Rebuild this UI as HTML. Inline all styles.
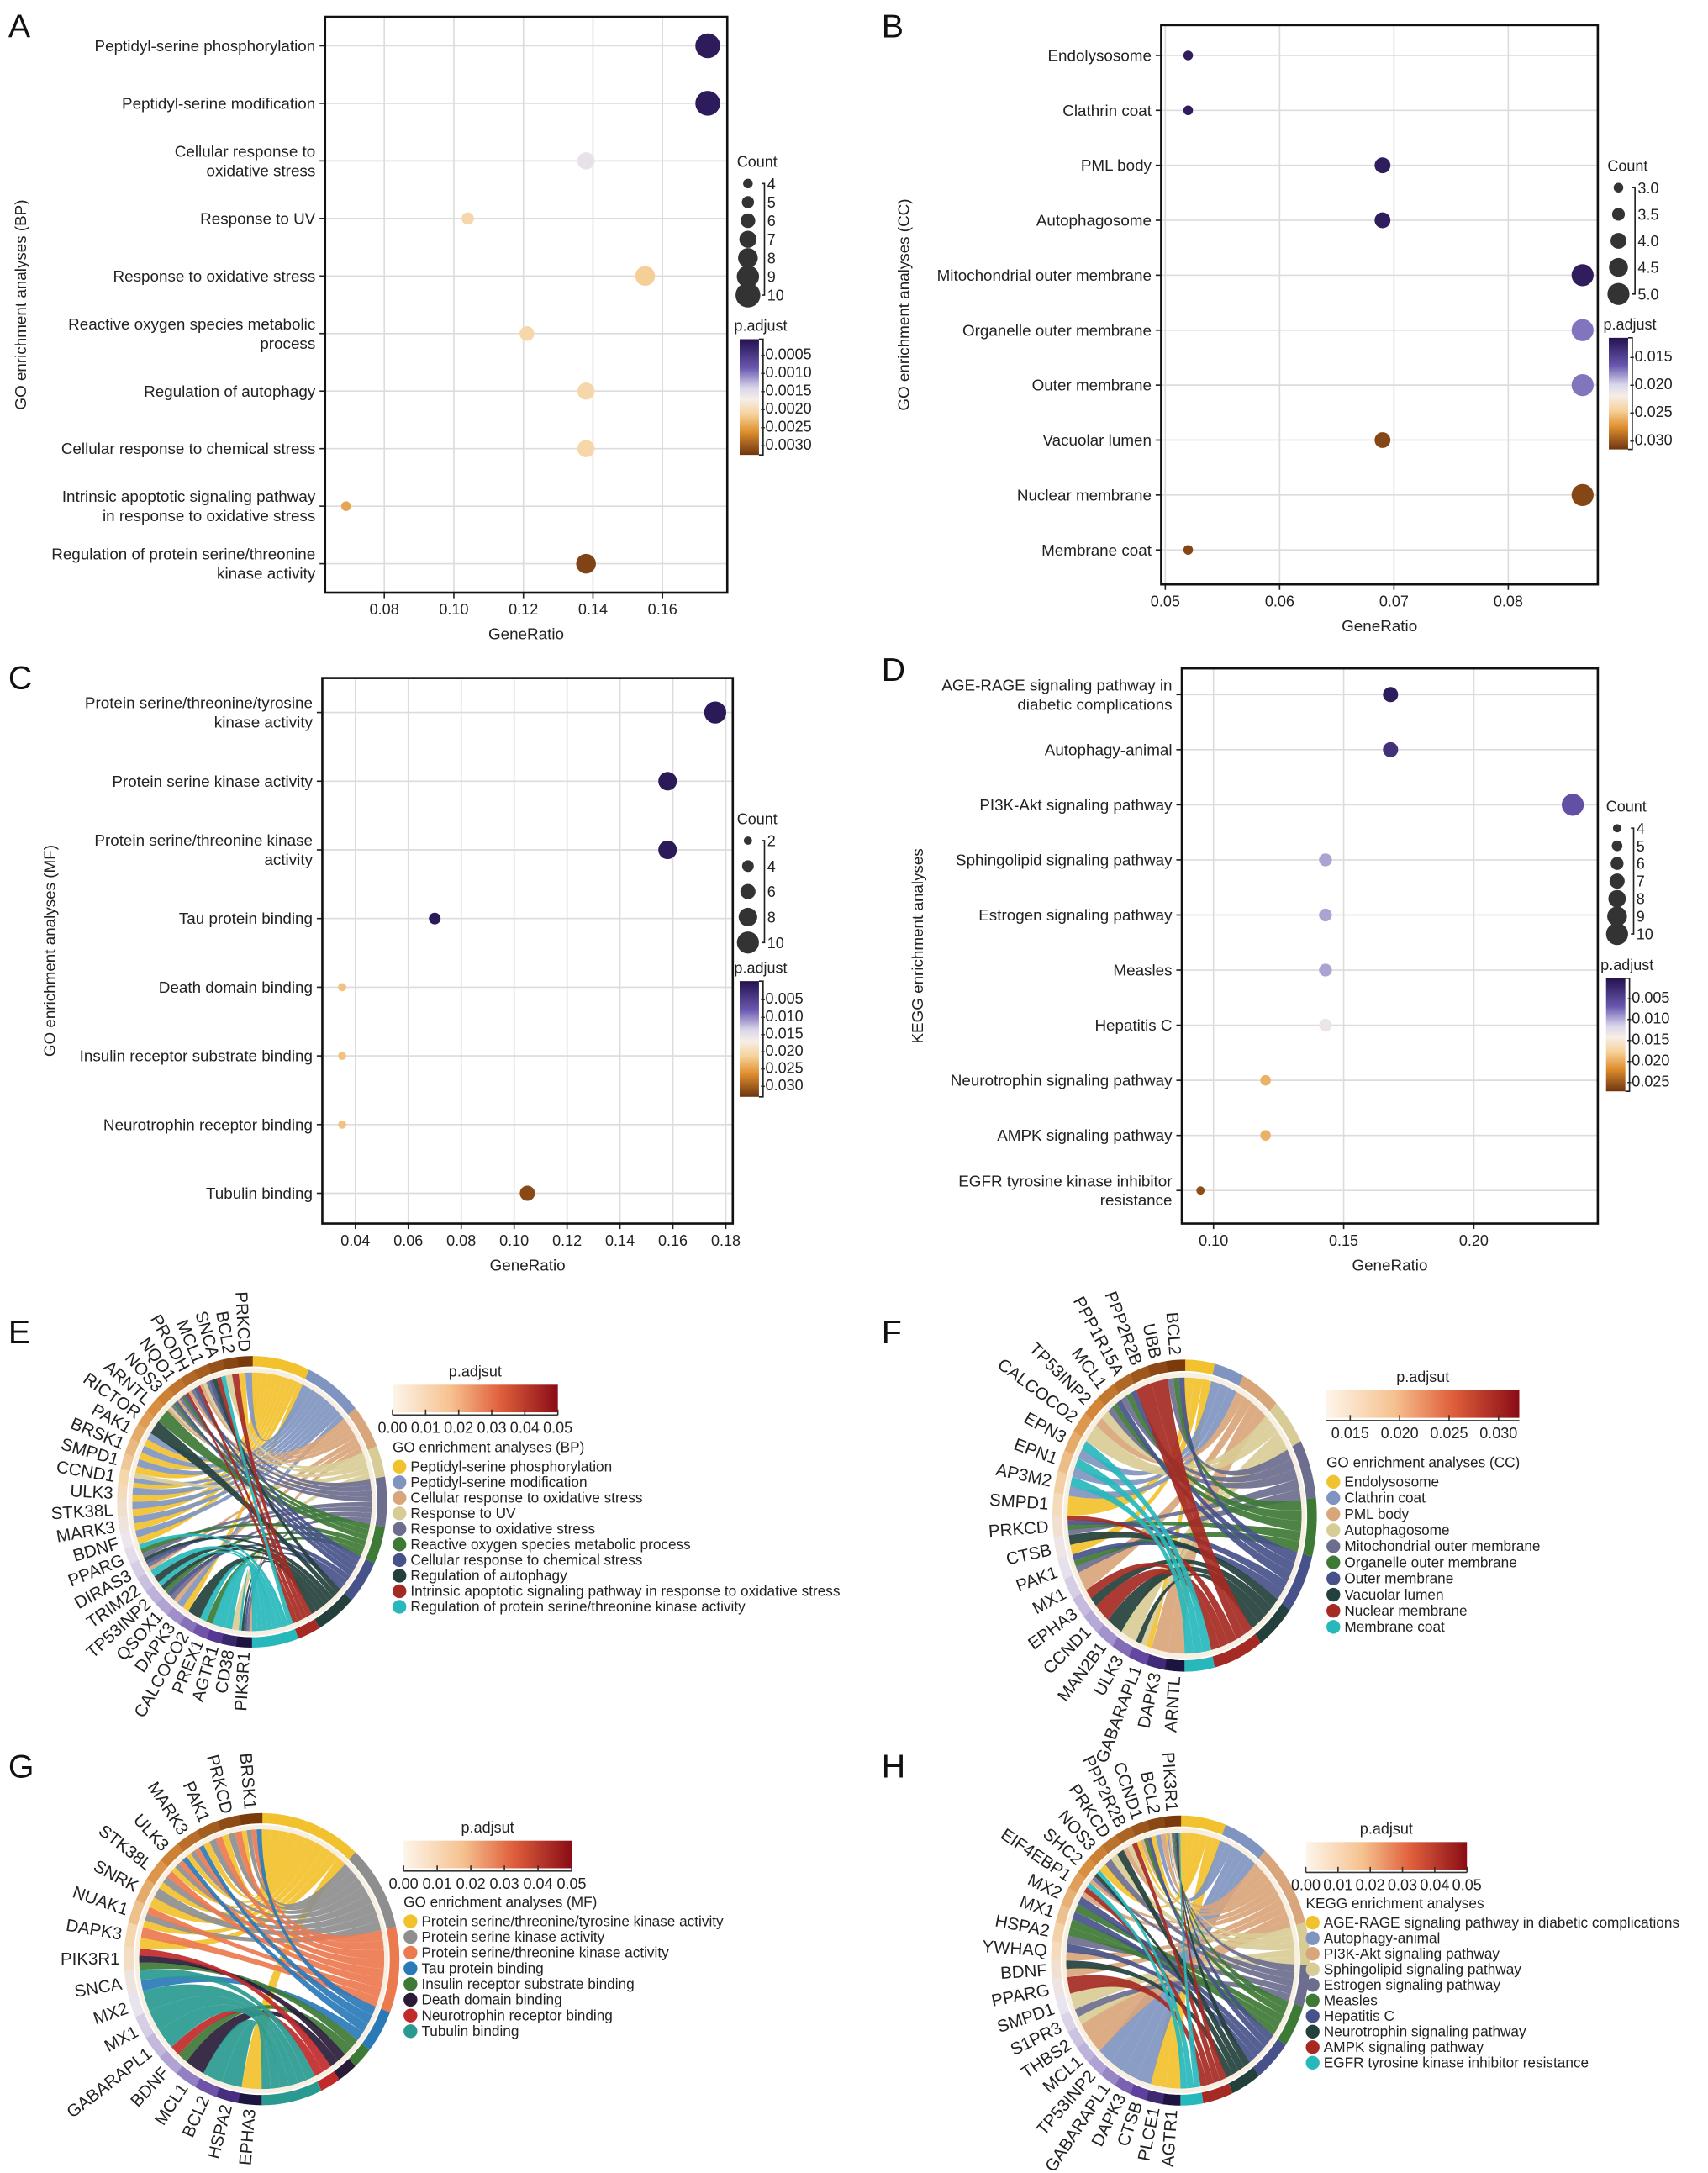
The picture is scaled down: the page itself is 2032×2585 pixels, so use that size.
<!DOCTYPE html>
<html><head><meta charset="utf-8"><style>
html,body{margin:0;padding:0;background:#fff;}
svg{display:block;font-family:"Liberation Sans",Arial,sans-serif;}
</style></head><body>
<svg id="fig" xmlns="http://www.w3.org/2000/svg" width="2032" height="2585" viewBox="0 0 1240 1577">
<defs>
<linearGradient id="padj" x1="0" y1="0" x2="0" y2="1">
<stop offset="0" stop-color="#24124f"/><stop offset="0.25" stop-color="#6a58b0"/><stop offset="0.42" stop-color="#d9d6ea"/><stop offset="0.52" stop-color="#f6eee6"/><stop offset="0.65" stop-color="#f6d29c"/><stop offset="0.8" stop-color="#e08f2e"/><stop offset="1" stop-color="#6e3510"/>
</linearGradient>
<linearGradient id="chordbar" x1="0" y1="0" x2="1" y2="0">
<stop offset="0" stop-color="#fdf5ea"/><stop offset="0.35" stop-color="#f6c290"/><stop offset="0.65" stop-color="#e0603c"/><stop offset="1" stop-color="#8a0c16"/>
</linearGradient>
</defs>
<g id="root"></g>
</svg>
<script>
// ---------- Panel A data ----------
const aLabels = ["Peptidyl-serine phosphorylation","Peptidyl-serine modification","Cellular response to\noxidative stress","Response to UV","Response to oxidative stress","Reactive oxygen species metabolic\nprocess","Regulation of autophagy","Cellular response to chemical stress","Intrinsic apoptotic signaling pathway\nin response to oxidative stress","Regulation of protein serine/threonine\nkinase activity"];
const aRatio = [0.173,0.173,0.138,0.104,0.155,0.121,0.138,0.138,0.069,0.138];
const aCount = [10,10,7,5,8,6,7,7,4,8];
const aPadj = [0.0002,0.0002,0.0016,0.0021,0.0022,0.0021,0.0021,0.0021,0.0025,0.0032];
const aTicks = [0.08,0.10,0.12,0.14,0.16];
const aTickLabels = ["0.08","0.10","0.12","0.14","0.16"];
const aCountLegend = [4,5,6,7,8,9,10];
const aPTicks = [0.0005,0.0010,0.0015,0.0020,0.0025,0.0030];
const aPTickLabels = ["0.0005","0.0010","0.0015","0.0020","0.0025","0.0030"];
// ---------- Panel B data ----------
const bLabels = ["Endolysosome","Clathrin coat","PML body","Autophagosome","Mitochondrial outer membrane","Organelle outer membrane","Outer membrane","Vacuolar lumen","Nuclear membrane","Membrane coat"];
const bRatio = [0.052,0.052,0.069,0.069,0.0865,0.0865,0.0865,0.069,0.0865,0.052];
const bCount = [3,3,4,4,5,5,5,4,5,3];
const bPadj = [0.0125,0.0125,0.0125,0.0125,0.0125,0.0175,0.0175,0.031,0.031,0.031];
const bTicks = [0.05,0.06,0.07,0.08];
const bTickLabels = ["0.05","0.06","0.07","0.08"];
const bCountLegend = [3.0,3.5,4.0,4.5,5.0];
const bCountLegendLabels = ["3.0","3.5","4.0","4.5","5.0"];
const bPTicks = [0.015,0.020,0.025,0.030];
const bPTickLabels = ["0.015","0.020","0.025","0.030"];
// ---------- Panel C data ----------
const cLabels = ["Protein serine/threonine/tyrosine\nkinase activity","Protein serine kinase activity","Protein serine/threonine kinase\nactivity","Tau protein binding","Death domain binding","Insulin receptor substrate binding","Neurotrophin receptor binding","Tubulin binding"];
const cRatio = [0.176,0.158,0.158,0.070,0.035,0.035,0.035,0.105];
const cCount = [10,8,8,4,2,2,2,6];
const cPadj = [0.0008,0.0008,0.0008,0.0008,0.023,0.023,0.023,0.032];
const cTicks = [0.04,0.06,0.08,0.10,0.12,0.14,0.16,0.18];
const cTickLabels = ["0.04","0.06","0.08","0.10","0.12","0.14","0.16","0.18"];
const cCountLegend = [2,4,6,8,10];
const cPTicks = [0.005,0.010,0.015,0.020,0.025,0.030];
const cPTickLabels = ["0.005","0.010","0.015","0.020","0.025","0.030"];
// ---------- Panel D data ----------
const dLabels = ["AGE-RAGE signaling pathway in\ndiabetic complications","Autophagy-animal","PI3K-Akt signaling pathway","Sphingolipid signaling pathway","Estrogen signaling pathway","Measles","Hepatitis C","Neurotrophin signaling pathway","AMPK signaling pathway","EGFR tyrosine kinase inhibitor\nresistance"];
const dRatio = [0.168,0.168,0.238,0.143,0.143,0.143,0.143,0.120,0.120,0.095];
const dCount = [7,7,10,6,6,6,6,5,5,4];
const dPadj = [0.0015,0.0035,0.0065,0.010,0.010,0.010,0.0135,0.020,0.020,0.026];
const dTicks = [0.10,0.15,0.20];
const dTickLabels = ["0.10","0.15","0.20"];
const dCountLegend = [4,5,6,7,8,9,10];
const dPTicks = [0.005,0.010,0.015,0.020,0.025];
const dPTickLabels = ["0.005","0.010","0.015","0.020","0.025"];

// ---------- Chord E ----------
const eGenes = ["PRKCD","BCL2","SNCA","MCL1","PRODH","NQO1","NOS3","ARNTL","RICTOR","PAK1","BRSK1","SMPD1","CCND1","ULK3","STK38L","MARK3","BDNF","PPARG","DIRAS3","TRIM22","TP53INP2","QSOX1","DAPK3","CALCOCO2","PREX1","AGTR1","CD38","PIK3R1"];
const eTerms = ["Peptidyl-serine phosphorylation","Peptidyl-serine modification","Cellular response to oxidative stress","Response to UV","Response to oxidative stress","Reactive oxygen species metabolic process","Cellular response to chemical stress","Regulation of autophagy","Intrinsic apoptotic signaling pathway in response to oxidative stress","Regulation of protein serine/threonine kinase activity"];
const eLinks = [[0,9,10,11,12,13,14,15,16,22],[0,9,10,11,12,13,14,15,16,22],[3,4,5,6,18,21,27],[1,3,6,12,26],[3,4,5,6,17,18,21,27],[5,6,7,17,20,24],[3,4,5,6,18,21,27],[2,8,18,19,20,23,27],[1,2,4,5],[2,17,19,20,24,25,26,27]];
// ---------- Chord F ----------
const fGenes = ["BCL2","UBB","PPP2R2B","PPP1R15A","MCL1","TP53INP2","CALCOCO2","EPN3","EPN1","AP3M2","SMPD1","PRKCD","CTSB","PAK1","MX1","EPHA3","CCND1","MAN2B1","ULK3","GABARAPL1","DAPK3","ARNTL"];
const fTerms = ["Endolysosome","Clathrin coat","PML body","Autophagosome","Mitochondrial outer membrane","Organelle outer membrane","Outer membrane","Vacuolar lumen","Nuclear membrane","Membrane coat"];
const fLinks = [[10,12,19],[7,8,9],[5,14,20,21],[5,6,18,19],[0,3,4,11,13],[0,3,4,11,13],[0,3,4,11,13],[12,15,17,19],[1,2,11,15,16],[7,8,9]];
// ---------- Chord G ----------
const gGenes = ["BRSK1","PRKCD","PAK1","MARK3","ULK3","STK38L","SNRK","NUAK1","DAPK3","PIK3R1","SNCA","MX2","MX1","GABARAPL1","BDNF","MCL1","BCL2","HSPA2","EPHA3"];
const gTerms = ["Protein serine/threonine/tyrosine kinase activity","Protein serine kinase activity","Protein serine/threonine kinase activity","Tau protein binding","Insulin receptor substrate binding","Death domain binding","Neurotrophin receptor binding","Tubulin binding"];
const gLinks = [[0,1,2,3,4,5,6,7,8,18],[0,1,2,3,4,5,6,7],[0,1,2,3,4,5,7,8],[0,3,4,10],[9,14],[9,15],[9,14],[10,11,12,13,16,17]];
// ---------- Chord H ----------
const hGenes = ["PIK3R1","BCL2","CCND1","PPP2R2B","PRKCD","NOS3","SHC2","EIF4EBP1","MX2","MX1","HSPA2","YWHAQ","BDNF","PPARG","SMPD1","S1PR3","THBS2","MCL1","TP53INP2","GABARAPL1","DAPK3","CTSB","PLCE1","AGTR1"];
const hTerms = ["AGE-RAGE signaling pathway in diabetic complications","Autophagy-animal","PI3K-Akt signaling pathway","Sphingolipid signaling pathway","Estrogen signaling pathway","Measles","Hepatitis C","Neurotrophin signaling pathway","AMPK signaling pathway","EGFR tyrosine kinase inhibitor resistance"];
const hLinks = [[0,1,2,5,22,23],[0,1,18,19,20,21],[0,1,2,3,6,7,11,12,16,17],[0,3,4,14,15],[0,5,6,10,15],[0,2,8,9,10],[0,2,8,9,11],[0,4,6,12],[0,3,7,13],[0,6,7]];
const chordBarTicks = [0,0.01,0.02,0.03,0.04,0.05];
const chordBarLabels = ["0.00","0.01","0.02","0.03","0.04","0.05"];
const fBarTicks = [0.015,0.020,0.025,0.030];
const fBarLabels = ["0.015","0.020","0.025","0.030"];

const NS="http://www.w3.org/2000/svg";
const root=document.getElementById('root');
function mk(tag,attrs,parent){const e=document.createElementNS(NS,tag);for(const k in attrs)e.setAttribute(k,attrs[k]);(parent||root).appendChild(e);return e;}
function hex(c){return [parseInt(c.slice(1,3),16),parseInt(c.slice(3,5),16),parseInt(c.slice(5,7),16)];}
function interp(stops,t){t=Math.max(0,Math.min(1,t));for(let i=1;i<stops.length;i++){if(t<=stops[i][0]){const a=stops[i-1],b=stops[i];const f=(t-a[0])/(b[0]-a[0]||1);const ca=hex(a[1]),cb=hex(b[1]);return 'rgb('+ca.map((v,j)=>Math.round(v+(cb[j]-v)*f)).join(',')+')';}}return stops[stops.length-1][1];}
const pStops=[[0,'#24124f'],[0.25,'#6a58b0'],[0.42,'#d9d6ea'],[0.52,'#f6eee6'],[0.65,'#f6d29c'],[0.8,'#e08f2e'],[1,'#6e3510']];

function label(txt,x,y,size,anchor,parent,name){
  const t=mk('text',{x:x,y:y,'font-size':size,'text-anchor':anchor||'start',fill:'#222'},parent);
  t.textContent=txt;
  
  
  return t;
}

function dotPlot(c){
  const g=mk('g',{});
  
  
  const X=v=>c.px0+(v-c.v0)*c.k;
  const n=c.labels.length;
  const Y=i=>c.ry0+i*(c.ry1-c.ry0)/(n-1);
  c.ticks.forEach((t,i)=>{
    const gl=mk('line',{x1:X(t),x2:X(t),y1:c.y0,y2:c.y1,stroke:'#dcdcdc','stroke-width':1},g);
    
    
    const tk=mk('line',{x1:X(t),x2:X(t),y1:c.y1,y2:c.y1+4,stroke:'#222','stroke-width':1},g);
    
    
    label(c.tickLabels[i],X(t),c.y1+16,11,'middle',g,'x-tick-label');
  });
  for(let i=0;i<n;i++){
    const gl=mk('line',{x1:c.x0,x2:c.x1,y1:Y(i),y2:Y(i),stroke:'#dcdcdc','stroke-width':1},g);
    
    
    const tk=mk('line',{x1:c.x0-4,x2:c.x0,y1:Y(i),y2:Y(i),stroke:'#222','stroke-width':1},g);
    
    
    const lines=c.labels[i].split('\n');
    lines.forEach((ln,j)=>{label(ln,c.x0-7,Y(i)+4+(j-(lines.length-1)/2)*14,11.5,'end',g,'y-tick-label');});
  }
  const box=mk('rect',{x:c.x0,y:c.y0,width:c.x1-c.x0,height:c.y1-c.y0,fill:'none',stroke:'#111','stroke-width':1.6},g);
  
  
  const R=v=>c.r0+(v-c.c0)/(c.c1-c.c0)*(c.r1-c.r0);
  const P=v=>(v-c.p0)/(c.p1-c.p0);
  for(let i=0;i<n;i++){
    const d=mk('circle',{cx:X(c.ratio[i]),cy:Y(i),r:R(c.count[i]),fill:interp(pStops,P(c.padj[i]))},g);
    
    
  }
  label('GeneRatio',(c.x0+c.x1)/2,c.y1+34,11.5,'middle',g,'x-axis-title');
  const yt=label(c.ytitle,c.ytx,(c.y0+c.y1)/2,11.5,'middle',g,'y-axis-title');
  yt.setAttribute('transform','rotate(-90 '+c.ytx+' '+(c.y0+c.y1)/2+')');
  label('Count',c.lx-8,c.ly,11,'start',g,'count-legend-title');
  const m=c.countLegend.length;
  const LY=i=>c.ly+12+i*c.lstep;
  const br=mk('polyline',{points:(c.lx+10)+','+LY(0)+' '+(c.lx+12)+','+LY(0)+' '+(c.lx+12)+','+LY(m-1)+' '+(c.lx+10)+','+LY(m-1),fill:'none',stroke:'#222','stroke-width':1},g);
  
  
  c.countLegend.forEach((v,i)=>{
    const d=mk('circle',{cx:c.lx,cy:LY(i),r:R(v),fill:'#333'},g);
    
    
    label((c.countLegendLabels||c.countLegend)[i]+'',c.lx+14,LY(i)+4,11,'start',g,'count-legend-label');
  });
  label('p.adjust',c.bx-4,c.by-6,11,'start',g,'colorbar-title');
  const cb=mk('rect',{x:c.bx,y:c.by,width:14,height:c.bh,fill:'url(#padj)'},g);
  
  
  const cbl=mk('polyline',{points:(c.bx+14)+','+c.by+' '+(c.bx+17)+','+c.by+' '+(c.bx+17)+','+(c.by+c.bh)+' '+(c.bx+14)+','+(c.by+c.bh),fill:'none',stroke:'#222','stroke-width':1},g);
  
  
  c.pTicks.forEach((v,i)=>{
    const y=c.by+P(v)*c.bh;
    label('-'+c.pTickLabels[i],c.bx+15,y+4,11,'start',g,'colorbar-tick-label');
  });
}

dotPlot({name:'panel-a-dotplot',labels:aLabels,ratio:aRatio,count:aCount,padj:aPadj,ticks:aTicks,tickLabels:aTickLabels,
 x0:236,x1:528,y0:12,y1:430,ry0:33,ry1:409,v0:0.08,px0:279,k:2525,c0:4,c1:10,r0:3.5,r1:9,p0:0.0001,p1:0.0033,
 ytitle:'GO enrichment analyses (BP)',ytx:19,countLegend:aCountLegend,lx:543,ly:121,lstep:13.5,pTicks:aPTicks,pTickLabels:aPTickLabels,bx:537,by:246,bh:84});
dotPlot({name:'panel-b-dotplot',labels:bLabels,ratio:bRatio,count:bCount,padj:bPadj,ticks:bTicks,tickLabels:bTickLabels,
 x0:843,x1:1160,y0:18,y1:424,ry0:40,ry1:399,v0:0.05,px0:846,k:8300,c0:3,c1:5,r0:3.5,r1:8,p0:0.0117,p1:0.0318,
 ytitle:'GO enrichment analyses (CC)',ytx:660,countLegend:bCountLegend,countLegendLabels:bCountLegendLabels,lx:1175,ly:124,lstep:19.3,pTicks:bPTicks,pTickLabels:bPTickLabels,bx:1168,by:245,bh:81});
dotPlot({name:'panel-c-dotplot',labels:cLabels,ratio:cRatio,count:cCount,padj:cPadj,ticks:cTicks,tickLabels:cTickLabels,
 x0:234,x1:532,y0:492,y1:888,ry0:517,ry1:866,v0:0.04,px0:258,k:1921,c0:2,c1:10,r0:3,r1:8,p0:0.0,p1:0.0335,
 ytitle:'GO enrichment analyses (MF)',ytx:40,countLegend:cCountLegend,lx:543,ly:598,lstep:18.5,pTicks:cPTicks,pTickLabels:cPTickLabels,bx:537,by:712,bh:84});
dotPlot({name:'panel-d-dotplot',labels:dLabels,ratio:dRatio,count:dCount,padj:dPadj,ticks:dTicks,tickLabels:dTickLabels,
 x0:858,x1:1160,y0:485,y1:888,ry0:504,ry1:864,v0:0.10,px0:881,k:1890,c0:4,c1:10,r0:3,r1:8,p0:0.0005,p1:0.0275,
 ytitle:'KEGG enrichment analyses',ytx:670,countLegend:dCountLegend,lx:1174,ly:589,lstep:12.8,pTicks:dPTicks,pTickLabels:dPTickLabels,bx:1166,by:710,bh:82});

const stdColors=['#f2c12e','#7f95c0','#d9a57b','#d8cc96','#6d6e8e','#3e7a35','#48528a','#24403c','#a52a23','#27b8bb'];
const gColors=['#f2c12e','#8e8e8e','#ec7a4f','#2a7ab8','#3e7a35','#2a1c38','#c02a2a','#2a9a90'];
const geneStops=[[0,'#7a3a0c'],[0.25,'#d88a3a'],[0.45,'#f6d8b0'],[0.6,'#ece8f0'],[0.8,'#a99ad0'],[0.92,'#5a3a9a'],[1,'#1e1440']];

function chord(c){
  const g=mk('g',{transform:'translate('+c.cx+','+c.cy+') scale(1,'+c.sy+')'});
  
  
  const r=c.r, rad=d=>d*Math.PI/180, P=(a,rr)=>[(rr*Math.cos(rad(a))).toFixed(2),(rr*Math.sin(rad(a))).toFixed(2)];
  const deg=c.genes.map(()=>0);c.links.forEach(l=>l.forEach(gi=>deg[gi]++));
  const totT=c.links.reduce((s,l)=>s+l.length,0);
  const tu=180/totT, gs=180/c.genes.length;
  const gStart=c.genes.map((n,i)=>270-(i+1)*gs);
  const gCur=gStart.slice();
  function band(a1,a2,r1,r2,fill,name){
    const p1=P(a1,r2),p2=P(a2,r2),p3=P(a2,r1),p4=P(a1,r1);const lg=(a2-a1)>180?1:0;
    const e=mk('path',{d:'M'+p1+' A'+r2+' '+r2+' 0 '+lg+' 1 '+p2+' L'+p3+' A'+r1+' '+r1+' 0 '+lg+' 0 '+p4+'Z',fill:fill},g);
    
    
    return e;
  }
  let ta=-90;
  const ribbons=[];
  c.links.forEach((l,t)=>{
    const a0=ta;ta+=l.length*tu;
    band(a0,ta,r+1,r+8,c.colors[t],'term-arc');
    l.forEach((gi,j)=>{
      const a1=a0+j*tu,a2=a1+tu;
      const w=gs/deg[gi];
      const b1=gCur[gi],b2=b1+w;gCur[gi]=b2;
      ribbons.push([a1,a2,b1,b2,c.colors[t]]);
    });
  });
  const ri=r-3;
  ribbons.forEach(rb=>{
    const [a1,a2,b1,b2,col]=rb;
    const e=mk('path',{d:'M'+P(a1,ri)+' A'+ri+' '+ri+' 0 0 1 '+P(a2,ri)+' Q0,0 '+P(b1,ri)+' A'+ri+' '+ri+' 0 0 1 '+P(b2,ri)+' Q0,0 '+P(a1,ri)+'Z',fill:col,'fill-opacity':0.92},g);
    
    
  });
  band(-90,90,r-3,r,'#f7efe2','term-inner-ring');
  band(90,270,r-3,r,'#f7efe2','gene-inner-ring');
  c.genes.forEach((n,i)=>{
    band(gStart[i],gStart[i]+gs+0.3,r+1,r+8,interp(geneStops,i/(c.genes.length-1)),'gene-arc');
  });
  c.genes.forEach((n,i)=>{
    const mid=gStart[i]+gs/2;const p=P(mid,r+11);
    const py=(p[1]*c.sy).toFixed(2);
    const t=mk('text',{x:p[0],y:py,'font-size':c.fs,'text-anchor':'end','dominant-baseline':'central',fill:'#222',transform:'scale(1,'+(1/c.sy).toFixed(4)+') rotate('+(mid-180).toFixed(2)+' '+p[0]+' '+py+')'},g);
    t.textContent=n;
    
    
  });
  const L=mk('g',{});
  
  
  label('p.adjsut',c.bx+c.bw/2,c.by-6,11,'middle',L,'colorbar-title');
  const cb=mk('rect',{x:c.bx,y:c.by,width:c.bw,height:20,fill:'url(#chordbar)'},L);
  
  
  const ax=mk('line',{x1:c.bx,x2:c.bx+c.bw,y1:c.by+22,y2:c.by+22,stroke:'#333','stroke-width':1},L);
  
  
  c.barTicks.forEach((v,i)=>{
    const x=c.bx+(v-c.b0)/(c.b1-c.b0)*c.bw;
    const tk=mk('line',{x1:x,x2:x,y1:c.by+18,y2:c.by+22,stroke:'#333','stroke-width':1},L);
    
    
    label(c.barLabels[i],x,c.by+35,11,'middle',L,'colorbar-tick-label');
  });
  label(c.ltitle,c.bx,c.ly,10.5,'start',L,'legend-title');
  c.terms.forEach((tn,i)=>{
    const y=c.ly+14+i*c.lstep;
    const d=mk('circle',{cx:c.bx+5,cy:y-3.5,r:5,fill:c.colors[i]},L);
    
    
    label(tn,c.bx+13,y,10.5,'start',L,'legend-entry');
  });
}
chord({name:'panel-e-chord',cx:183,cy:1090,r:90,sy:1.08,fs:12.5,genes:eGenes,terms:eTerms,links:eLinks,colors:stdColors,
 bx:285,by:1005,bw:120,b0:0,b1:0.05,barTicks:chordBarTicks,barLabels:chordBarLabels,ltitle:'GO enrichment analyses (BP)',ly:1054,lstep:11.3});
chord({name:'panel-f-chord',cx:860,cy:1100,r:88,sy:1.18,fs:12.5,genes:fGenes,terms:fTerms,links:fLinks,colors:stdColors,
 bx:963,by:1009,bw:140,b0:0.0126,b1:0.0321,barTicks:fBarTicks,barLabels:fBarLabels,ltitle:'GO enrichment analyses (CC)',ly:1065,lstep:11.7});
chord({name:'panel-g-chord',cx:190,cy:1422,r:92,sy:1.06,fs:12.5,genes:gGenes,terms:gTerms,links:gLinks,colors:gColors,
 bx:293,by:1336,bw:122,b0:0,b1:0.05,barTicks:chordBarTicks,barLabels:chordBarLabels,ltitle:'GO enrichment analyses (MF)',ly:1384,lstep:11.4});
chord({name:'panel-h-chord',cx:857,cy:1423,r:86,sy:1.12,fs:12.5,genes:hGenes,terms:hTerms,links:hLinks,colors:stdColors,
 bx:948,by:1337,bw:117,b0:0,b1:0.05,barTicks:chordBarTicks,barLabels:chordBarLabels,ltitle:'KEGG enrichment analyses',ly:1385,lstep:11.3});

[['A',6,27],['B',640,27],['C',6,500],['D',640,494],['E',6,975],['F',640,975],['G',6,1290],['H',640,1290]].forEach(p=>{
  const t=label(p[0],p[1],p[2],24,'start',root,'panel-letter');
  t.setAttribute('fill','#111');
});
</script>
</body></html>
